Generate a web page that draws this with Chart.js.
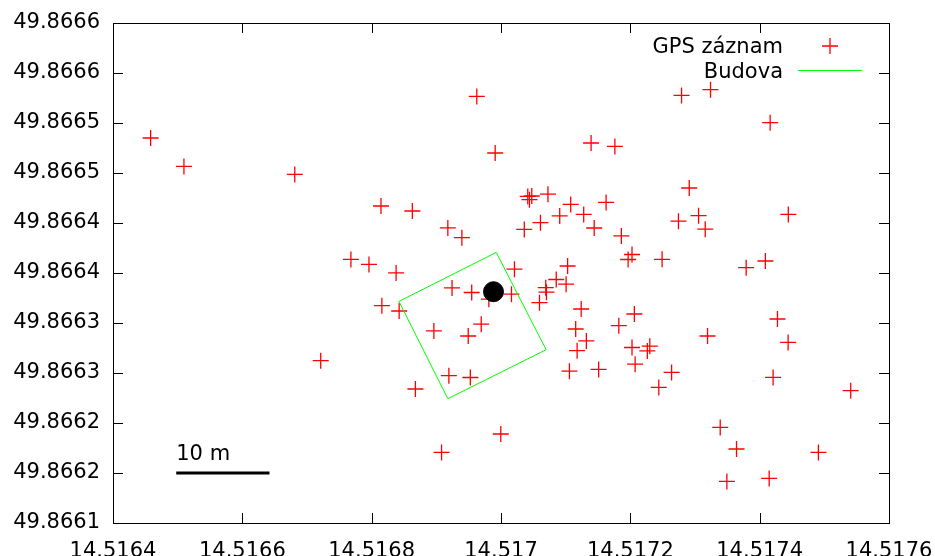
<!DOCTYPE html>
<html lang="cs">
<head>
  <meta charset="UTF-8" />
  <title>GPS záznam</title>
  <script src="https://cdn.jsdelivr.net/npm/chart.js"></script>
  <style>
    body { margin: 0; background: #fff; }
  </style>
</head>
<body>
  <canvas id="gpsChart" width="935" height="556"></canvas>

  <script>
    // GPS záznam (longitude / latitude)
    const gpsLon = [
      14.5164582, 14.5165097, 14.5166811, 14.5169626, 14.5169910, 14.5171393, 14.5171761, 14.5172792,
      14.5173240, 14.5174162, 14.5172911, 14.5168144, 14.5168629, 14.5169178, 14.5169395, 14.5170414,
      14.5170476, 14.5170440, 14.5170726, 14.5171078, 14.5171625, 14.5170908, 14.5171279, 14.5170610,
      14.5170360, 14.5171441, 14.5171861, 14.5172744, 14.5173055, 14.5173158, 14.5174443, 14.5167679,
      14.5167958, 14.5168378, 14.5170208, 14.5171030, 14.5172026, 14.5171966, 14.5172491, 14.5173791,
      14.5174088, 14.5169243, 14.5169547, 14.5170162, 14.5170692, 14.5170703, 14.5170854, 14.5171007,
      14.5170595, 14.5168158, 14.5168425, 14.5171240, 14.5172062, 14.5168962, 14.5169493, 14.5169694,
      14.5171155, 14.5171320, 14.5171177, 14.5171822, 14.5172026, 14.5172301, 14.5172263, 14.5172074,
      14.5171058, 14.5171510, 14.5172638, 14.5172440, 14.5167212, 14.5169194, 14.5169526, 14.5168676,
      14.5173194, 14.5174275, 14.5174440, 14.5174208, 14.5175408, 14.5173390, 14.5173642, 14.5174908,
      14.5173493, 14.5174147, 14.5169997, 14.5169081, 14.5169812
    ];
    const gpsLat = [
      49.8664850, 49.8664566, 49.8664486, 49.8665266, 49.8664700, 49.8664800, 49.8664766, 49.8665276,
      49.8665333, 49.8665003, 49.8664350, 49.8664170, 49.8664120, 49.8663951, 49.8663853, 49.8664266,
      49.8664270, 49.8664233, 49.8664288, 49.8664186, 49.8664206, 49.8664071, 49.8664086, 49.8664003,
      49.8663936, 49.8663950, 49.8663871, 49.8664018, 49.8664073, 49.8663938, 49.8664086, 49.8663636,
      49.8663586, 49.8663501, 49.8663538, 49.8663570, 49.8663685, 49.8663635, 49.8663637, 49.8663553,
      49.8663620, 49.8663351, 49.8663305, 49.8663288, 49.8663353, 49.8663308, 49.8663435, 49.8663388,
      49.8663203, 49.8663173, 49.8663120, 49.8663140, 49.8663090, 49.8662921, 49.8662870, 49.8662988,
      49.8662940, 49.8662821, 49.8662723, 49.8662973, 49.8662755, 49.8662768, 49.8662721, 49.8662588,
      49.8662518, 49.8662536, 49.8662506, 49.8662356, 49.8662623, 49.8662473, 49.8662455, 49.8662340,
      49.8662870, 49.8663040, 49.8662806, 49.8662456, 49.8662323, 49.8661956, 49.8661740, 49.8661706,
      49.8661416, 49.8661446, 49.8661890, 49.8661706, 49.8663238
    ];

    // Budova - building outline, closed polygon
    const budovaLon = [14.5168422, 14.5169926, 14.5170698, 14.5169178, 14.5168422];
    const budovaLat = [49.8663216, 49.8663706, 49.8662733, 49.8662243, 49.8663216];

    // centre point
    const centerLon = [14.5169884];
    const centerLat = [49.8663313];

    // 10 m scale bar
    const barLon = [14.5164978, 14.516642];
    const barLat = [49.86615, 49.86615];
    const barText = '10 m';

    // axes
    const xTicks = [14.5164, 14.5166, 14.5168, 14.517, 14.5172, 14.5174, 14.5176];
    const xTickLabels = ['14.5164', '14.5166', '14.5168', '14.517', '14.5172', '14.5174', '14.5176'];
    const yTicks = [49.8661, 49.86615, 49.8662, 49.86625, 49.8663, 49.86635, 49.8664, 49.86645, 49.8665, 49.86655, 49.8666];
    const yTickLabels = ['49.8661', '49.8662', '49.8662', '49.8663', '49.8663', '49.8664', '49.8664', '49.8665', '49.8665', '49.8666', '49.8666'];

    const FONT = '"DejaVu Sans", sans-serif';
    const zip = (xs, ys) => xs.map((v, i) => ({ x: v, y: ys[i] }));

    // border with inward (mirrored) ticks, legend and the scale bar text
    const frame = {
      id: 'frame',
      beforeDatasetsDraw(chart) {
        const { ctx, chartArea: a, scales: { x, y } } = chart;
        ctx.save();
        ctx.strokeStyle = '#000';
        ctx.lineWidth = 1;
        ctx.beginPath();
        xTicks.forEach(v => {
          const px = Math.round(x.getPixelForValue(v)) + 0.5;
          ctx.moveTo(px, a.bottom); ctx.lineTo(px, a.bottom - 10);
          ctx.moveTo(px, a.top); ctx.lineTo(px, a.top + 10);
        });
        yTicks.forEach(v => {
          const py = Math.round(y.getPixelForValue(v)) + 0.5;
          ctx.moveTo(a.left, py); ctx.lineTo(a.left + 10, py);
          ctx.moveTo(a.right, py); ctx.lineTo(a.right - 10, py);
        });
        ctx.stroke();
        ctx.strokeRect(Math.round(a.left) + 0.5, Math.round(a.top) + 0.5,
                       Math.round(a.right - a.left), Math.round(a.bottom - a.top));
        ctx.restore();
      },
      afterDraw(chart) {
        const { ctx, chartArea: a, scales: { x, y } } = chart;
        ctx.save();
        ctx.font = '21px ' + FONT;
        ctx.fillStyle = '#000';
        ctx.textBaseline = 'alphabetic';

        // legend
        ctx.textAlign = 'right';
        ctx.fillText('GPS záznam', a.right - 106, a.top + 30);
        ctx.fillText('Budova', a.right - 106, a.top + 55);
        const cx = a.right - 59, cy = a.top + 23;
        ctx.strokeStyle = '#ff0000';
        ctx.lineWidth = 1.3;
        ctx.beginPath();
        ctx.moveTo(cx - 8, cy); ctx.lineTo(cx + 8, cy);
        ctx.moveTo(cx, cy - 8); ctx.lineTo(cx, cy + 8);
        ctx.stroke();
        ctx.strokeStyle = '#00ff00';
        ctx.lineWidth = 1;
        ctx.beginPath();
        ctx.moveTo(a.right - 91, a.top + 47.5); ctx.lineTo(a.right - 27, a.top + 47.5);
        ctx.stroke();

        // scale bar caption
        ctx.textAlign = 'left';
        ctx.fillText(barText, x.getPixelForValue(barLon[0]), y.getPixelForValue(barLat[0]) - 13);
        ctx.restore();
      }
    };

    Chart.defaults.font.family = FONT;
    Chart.defaults.font.size = 21;
    Chart.defaults.color = '#000';

    new Chart(document.getElementById('gpsChart'), {
      type: 'scatter',
      data: {
        datasets: [
          {
            label: 'center',
            data: zip(centerLon, centerLat),
            pointStyle: 'circle',
            pointRadius: 10,
            backgroundColor: '#000',
            borderColor: '#000',
            order: 0
          },
          {
            label: 'Budova',
            data: zip(budovaLon, budovaLat),
            showLine: true,
            borderColor: '#00ff00',
            borderWidth: 1,
            pointRadius: 0,
            order: 1
          },
          {
            label: 'GPS záznam',
            data: zip(gpsLon, gpsLat),
            pointStyle: 'cross',
            pointRadius: 8,
            borderColor: '#ff0000',
            borderWidth: 1.3,
            order: 2
          },
          {
            label: barText,
            data: zip(barLon, barLat),
            showLine: true,
            borderColor: '#000',
            borderWidth: 3,
            pointRadius: 0,
            order: 3
          }
        ]
      },
      options: {
        responsive: false,
        animation: false,
        events: [],
        layout: { padding: { top: 23, right: 46, left: 0, bottom: 0 } },
        plugins: { legend: { display: false }, tooltip: { enabled: false } },
        scales: {
          x: {
            type: 'linear',
            min: 14.5164,
            max: 14.5176,
            grid: { display: false, drawTicks: false },
            border: { display: false },
            afterBuildTicks: s => { s.ticks = xTicks.map(v => ({ value: v })); },
            afterFit: s => { s.height = 33; s.paddingLeft = 0; s.paddingRight = 0; },
            ticks: {
              padding: 16,
              maxRotation: 0,
              callback: (v, i) => xTickLabels[i]
            }
          },
          y: {
            type: 'linear',
            min: 49.8661,
            max: 49.8666,
            grid: { display: false, drawTicks: false },
            border: { display: false },
            afterBuildTicks: s => { s.ticks = yTicks.map(v => ({ value: v })); },
            afterFit: s => { s.width = 113; s.paddingTop = 0; s.paddingBottom = 0; },
            ticks: {
              padding: 13,
              callback: (v, i) => yTickLabels[i]
            }
          }
        }
      },
      plugins: [frame]
    });
  </script>
</body>
</html>
